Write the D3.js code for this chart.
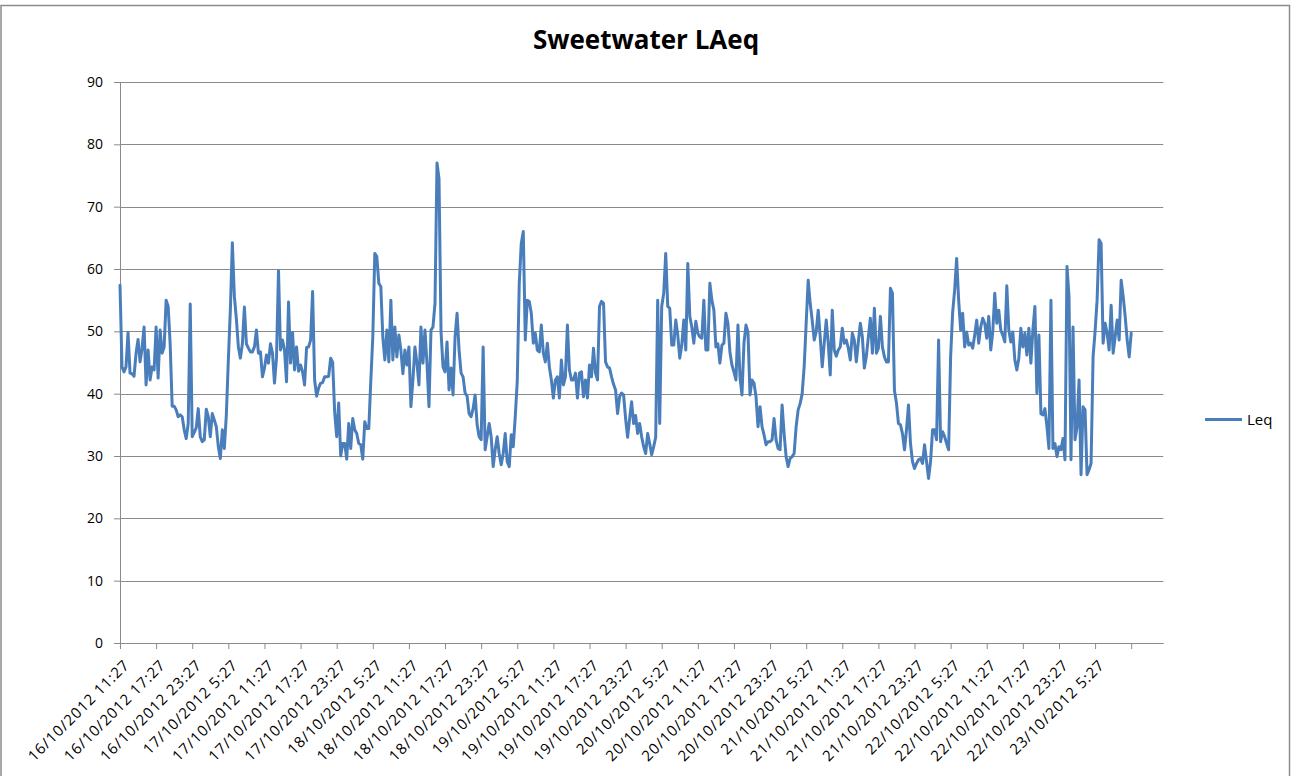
<!DOCTYPE html>
<html>
<head>
<meta charset="utf-8">
<script src="https://cdnjs.cloudflare.com/ajax/libs/d3/7.8.5/d3.min.js"></script>
<style>
  body { margin: 0; background: #fff; }
  svg text { font-family: "Open Sans", "Liberation Sans", sans-serif; fill: #000; }
</style>
</head>
<body>
<div id="container"></div>
<script>
// Leq readings, one every 20 minutes from 16/10/2012 11:27
var leq = [
  57.4, 44.3, 43.5, 44.3, 49.8, 43.3, 43.2, 42.8, 46.5, 48.7, 45.1, 47.3, 50.7, 41.4, 47, 42.2, 44.3, 43.8,
  50.7, 42.5, 50.2, 46.5, 47.5, 55, 54, 48, 38, 38, 37.4, 36.3, 36.6, 36.3, 34.2, 32.8, 35.2, 54.4,
  33.1, 33.8, 34.5, 37.6, 33.1, 32.3, 32.6, 37.5, 36.3, 33.1, 36.8, 35.8, 34.7, 31.5, 29.6, 34.2, 31.2, 36.6,
  45.4, 53.4, 64.2, 55.6, 52, 47.5, 45.7, 48, 53.9, 48, 47.3, 46.7, 46.7, 47.5, 50.2, 46.5, 46.7, 42.7,
  44.1, 46.2, 44.9, 48, 46.5, 41.7, 45.7, 59.7, 47, 48.6, 47, 41.9, 54.7, 44.9, 49.8, 43.8, 47.5, 43.6,
  44.6, 43.5, 41.4, 47.4, 47.5, 48.6, 56.4, 42.2, 39.6, 40.9, 41.7, 41.8, 42.7, 42.7, 42.8, 45.7, 45, 37,
  33.1, 38.5, 30, 32, 32, 29.5, 35.2, 31.2, 36, 34.2, 33.6, 32, 31.8, 29.5, 35.5, 34.4, 34.4, 42,
  49.1, 62.5, 62, 57.7, 57.2, 49, 45.4, 50.2, 45.1, 55, 45.4, 50.7, 45.9, 49.4, 47, 43.2, 47, 44.6,
  47.5, 37.9, 42.2, 47.5, 44.9, 41.4, 50.7, 44.9, 50.2, 44.9, 37.9, 50.2, 50.7, 54.5, 77, 74.5, 50, 44.3,
  43.5, 48.3, 40.6, 44.1, 39.8, 49.1, 52.9, 47, 43.3, 42.7, 40.1, 39.6, 36.8, 36.3, 37.6, 39.8, 35, 33.1,
  32.6, 47.5, 31, 33.1, 35.2, 33.1, 28.3, 31, 33.1, 30.4, 28.6, 30.4, 33.6, 29.1, 28.3, 33.4, 31.5, 36.3,
  42, 57.7, 64.1, 66, 48.6, 55, 54.8, 52.9, 48.1, 49.7, 47, 46.7, 51, 46.5, 45.1, 48.1, 44.3, 42.2,
  39.3, 42.2, 42.7, 39.3, 45.4, 41.4, 42.7, 51, 43.8, 42.2, 42.2, 43.3, 39.3, 43.3, 43.5, 39.5, 42.2, 39.3,
  44.6, 42.7, 47.3, 43.3, 42.2, 54, 54.8, 54.5, 45.1, 44.3, 44.1, 42.7, 41.5, 40.6, 36.8, 39.5, 40.1, 39.8,
  36, 33, 36, 38.7, 35.2, 36.5, 33.6, 35.2, 33.1, 31.5, 30.4, 33.6, 32, 30.2, 31.5, 33, 55, 35.2,
  54, 56.1, 62.5, 54, 53.7, 47.8, 47.8, 51.8, 49.4, 45.7, 47.8, 51.8, 47, 60.9, 52.4, 50.7, 48.1, 51.6,
  49.7, 49.1, 48.9, 55, 47, 47, 57.7, 55, 53.4, 47.5, 48, 44.9, 47.8, 48.1, 52.9, 51.3, 46.7, 44.6,
  43.5, 42.2, 51, 42.7, 39.8, 48.1, 51, 49.9, 39.8, 42.2, 41.7, 39.5, 34.7, 37.9, 34.7, 33.4, 31.8, 32.3,
  32.3, 32.6, 36, 32.6, 31.2, 31, 38.2, 33.6, 29.9, 28.3, 29.6, 29.9, 30.4, 34.7, 37.4, 38.4, 40, 44.3,
  51.3, 58.2, 54.5, 51.8, 48.6, 49.9, 53.4, 49.1, 44.3, 48.1, 51.8, 48.1, 43, 53.4, 47, 46, 47, 47.5,
  50.5, 48.1, 48.6, 47.3, 45.4, 49.7, 48.6, 45.1, 48.3, 51.3, 49.1, 44.1, 46, 49.1, 52.1, 46.5, 53.7, 46.5,
  47.3, 52.4, 47.5, 45.9, 45.1, 45.1, 56.9, 56.1, 40.5, 38.5, 35.2, 35, 33.6, 31, 34.2, 38.2, 32, 29.1,
  28, 28.8, 29.4, 29.6, 28.8, 31.8, 29.1, 26.4, 29.1, 34.2, 34.2, 32.6, 48.6, 32.3, 33.9, 33.1, 32, 31,
  45.9, 53, 56.6, 61.7, 55, 50.2, 52.9, 47.5, 49.9, 47.8, 48.1, 47.3, 49.4, 51.8, 48.1, 50.7, 52.1, 51.3,
  48.9, 52.4, 47, 49.9, 56.1, 51.3, 53.4, 50.2, 49.4, 48.3, 57.3, 50.2, 48.3, 49.9, 45.4, 43.8, 45.7, 50.5,
  47.5, 49.7, 46.2, 50.5, 44.9, 50.2, 54, 40.1, 49.4, 36.8, 36.6, 37.6, 34.7, 31.2, 55, 31.2, 32, 29.9,
  31.5, 31, 32.8, 29.4, 60.4, 55.6, 29.4, 50.7, 32.6, 34.7, 42.2, 27, 37.9, 37.4, 27, 27.8, 28.8, 45.9,
  50, 55, 64.7, 64.1, 48.1, 51.3, 49.7, 47, 54.2, 46.5, 49.1, 51.8, 48.6, 58.2, 55.6, 52.4, 48.6, 45.9,
  49.7
];

var tickLabels = [
  "16/10/2012 11:27", "16/10/2012 17:27", "16/10/2012 23:27",
  "17/10/2012 5:27", "17/10/2012 11:27", "17/10/2012 17:27", "17/10/2012 23:27",
  "18/10/2012 5:27", "18/10/2012 11:27", "18/10/2012 17:27", "18/10/2012 23:27",
  "19/10/2012 5:27", "19/10/2012 11:27", "19/10/2012 17:27", "19/10/2012 23:27",
  "20/10/2012 5:27", "20/10/2012 11:27", "20/10/2012 17:27", "20/10/2012 23:27",
  "21/10/2012 5:27", "21/10/2012 11:27", "21/10/2012 17:27", "21/10/2012 23:27",
  "22/10/2012 5:27", "22/10/2012 11:27", "22/10/2012 17:27", "22/10/2012 23:27",
  "23/10/2012 5:27"
];

var yTicks = [0, 10, 20, 30, 40, 50, 60, 70, 80, 90];

var seriesName = "Leq";
var chartTitle = "Sweetwater LAeq";

var perTick = 18;        // 6 hours of 20 minute readings
var categories = 520;    // category slots on the axis (blank ones at the end)

var blue = "#4a7ebb";
var grid = "#8a8a8a";

var svg = d3.select("#container").append("svg")
            .attr("width", 1298).attr("height", 776);

// chart border
svg.append("rect")
   .attr("x", 1).attr("y", 5.5)
   .attr("width", 1288.5).attr("height", 800)
   .attr("fill", "none").attr("stroke", "#8c8c8c").attr("stroke-width", 1.5);

var plotLeft = 120, plotRight = 1163.3, plotTop = 82, plotBottom = 643;

var x = d3.scaleLinear().domain([0, categories]).range([plotLeft, plotRight]);
var y = d3.scaleLinear().domain([0, 90]).range([plotBottom, plotTop]);

// title
svg.append("text")
   .attr("x", 646).attr("y", 49)
   .attr("text-anchor", "middle")
   .style("font-size", "26px").style("font-weight", "bold")
   .text(chartTitle);

// horizontal gridlines
svg.append("g").selectAll("line")
   .data(yTicks.slice(1))
   .enter().append("line")
   .attr("x1", plotLeft).attr("x2", plotRight)
   .attr("y1", function(d){ return Math.round(y(d)) + 0.5; })
   .attr("y2", function(d){ return Math.round(y(d)) + 0.5; })
   .attr("stroke", grid).attr("stroke-width", 1);

// y axis
var yAxis = svg.append("g")
   .attr("transform", "translate(" + plotLeft + ",0)")
   .call(d3.axisLeft(y).tickValues(yTicks).tickSize(6).tickPadding(11).tickSizeOuter(0));
yAxis.selectAll("path, line").attr("stroke", grid);
yAxis.selectAll("text").style("font-size", "14px").attr("fill", "#000");

// x axis
var tickIdx = d3.range(0, tickLabels.length + 1).map(function(i){ return i * perTick; });
var xAxis = svg.append("g")
   .attr("transform", "translate(0," + plotBottom + ")")
   .call(d3.axisBottom(x).tickValues(tickIdx)
           .tickFormat(function(d, i){ return tickLabels[i] || ""; })
           .tickSize(6).tickSizeOuter(0));
xAxis.selectAll("path, line").attr("stroke", grid);
xAxis.selectAll("text")
     .attr("y", null).attr("dy", null)
     .attr("text-anchor", "end")
     .attr("transform", "translate(2,15) rotate(-45)")
     .attr("dy", "0.75em")
     .style("font-size", "15px")
     .style("letter-spacing", "0.9px")
     .attr("fill", "#000");

// the series
var line = d3.line()
             .x(function(d, i){ return x(i); })
             .y(function(d){ return y(d); });

svg.append("path")
   .datum(leq)
   .attr("d", line)
   .attr("fill", "none")
   .attr("stroke", blue)
   .attr("stroke-width", 3)
   .attr("stroke-linejoin", "round")
   .attr("stroke-linecap", "round");

// legend
var legend = svg.append("g").attr("transform", "translate(1205,419.5)");
legend.append("line")
      .attr("x1", 0).attr("x2", 37)
      .attr("stroke", blue).attr("stroke-width", 3);
legend.append("text")
      .attr("x", 42).attr("dy", "0.35em")
      .style("font-size", "15px")
      .text(seriesName);
</script>
</body>
</html>
